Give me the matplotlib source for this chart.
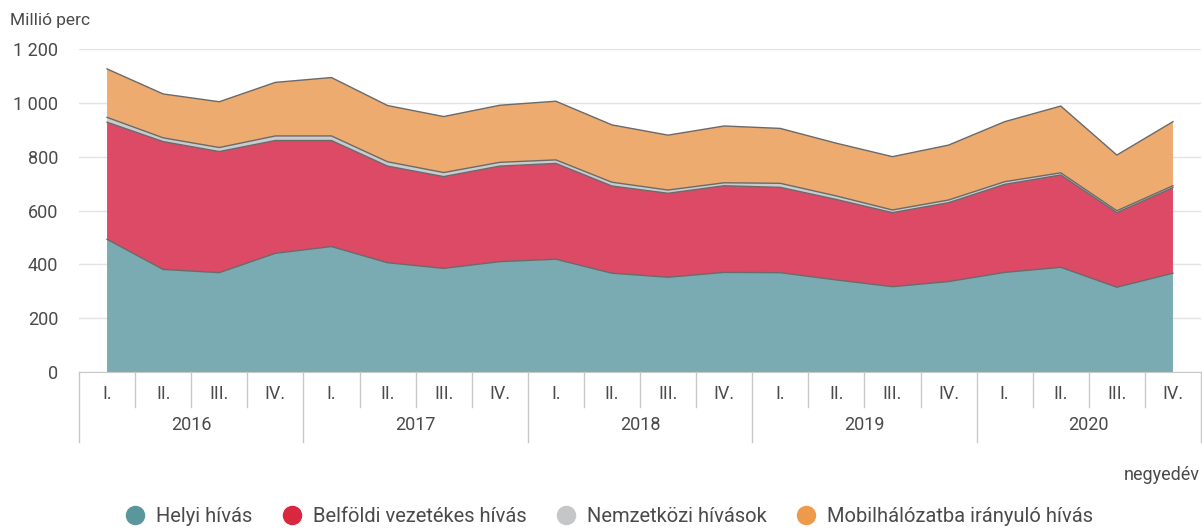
import numpy as np
import matplotlib
matplotlib.use("Agg")
import matplotlib.pyplot as plt
import matplotlib.transforms as mtransforms
from matplotlib.lines import Line2D

plt.rcParams["font.family"] = ["Roboto", "DejaVu Sans"]

# ---------------- DATA ----------------

years = ["2016", "2017", "2018", "2019", "2020"]
quarters = ["I.", "II.", "III.", "IV."]

helyi = [493, 381, 369, 441, 466, 406, 385, 410, 419, 367,
         352, 370, 369, 342, 317, 336, 370, 389, 315, 367]
belfoldi = [435, 475, 450, 419, 394, 359, 341, 355, 356, 324,
            312, 322, 317, 299, 275, 293, 327, 343, 277, 318]
nemzetkozi = [18, 14, 15, 17, 17, 16, 15, 14, 13, 14,
              12, 11, 15, 13, 10, 10, 10, 8, 7, 7]
mobil = [180, 163, 170, 199, 217, 209, 208, 212, 218, 213,
         204, 211, 204, 196, 198, 204, 223, 248, 207, 238]

series_names = ["Helyi hívás", "Belföldi vezetékes hívás",
                "Nemzetközi hívások", "Mobilhálózatba irányuló hívás"]
fill_colors = ["#7aabb2", "#dc4a66", "#c9cbcd", "#edab6f"]
legend_colors = ["#5a979d", "#d9273f", "#c4c6c8", "#ee9a4c"]

text_color = "#4a4a4a"

# ---------------- PLOT ----------------

fig = plt.figure(figsize=(12.02, 5.29), dpi=100)
ax = fig.add_axes([79 / 1202, 1 - 372 / 529, 1122 / 1202, 323 / 529])

x = np.arange(len(helyi))
stack = np.vstack([helyi, belfoldi, nemzetkozi, mobil])
ax.stackplot(x, stack, colors=fill_colors, linewidth=0, zorder=2)

tops = np.cumsum(stack, axis=0)
for row in tops:
    ax.plot(x, row, color="#6a6a6a", lw=1.0, zorder=3)

ax.set_xlim(-0.5, len(helyi) - 0.5)
ax.set_ylim(0, 1200)
ax.set_yticks(np.arange(0, 1201, 200))
ax.set_yticklabels([f"{v:,}".replace(",", " ") for v in range(0, 1201, 200)])
ax.tick_params(axis="y", length=0, pad=15, labelsize=13, labelcolor=text_color)
ax.set_xticks([])
ax.grid(axis="y", color="#e3e3e3", lw=1, zorder=0)
ax.set_axisbelow(True)

for s in ["top", "right", "left"]:
    ax.spines[s].set_visible(False)
ax.spines["bottom"].set_color("#c8c8c8")

# category axis with grouped years
trans = mtransforms.blended_transform_factory(ax.transData, ax.transAxes)
sep_color = "#c8c8c8"
for i in range(len(helyi)):
    ax.text(i, -0.068, quarters[i % 4], transform=trans, ha="center",
            va="center", fontsize=13, color=text_color)
for b in range(len(helyi) + 1):
    bottom = -0.217 if b % 4 == 0 else -0.108
    ax.plot([b - 0.5, b - 0.5], [0, bottom], transform=trans, color=sep_color,
            lw=1, clip_on=False)
for k, yr in enumerate(years):
    ax.text(k * 4 + 1.5, -0.164, yr, transform=trans, ha="center",
            va="center", fontsize=13, color=text_color)

fig.text(10 / 1202, 1 - 20 / 529, "Millió perc", ha="left", va="center",
         fontsize=12.5, color=text_color)
fig.text(1200 / 1202, 1 - 475 / 529, "negyedév", ha="right", va="center",
         fontsize=13, color=text_color)

handles = [Line2D([], [], marker="o", ls="", markersize=13,
                  markerfacecolor=c, markeredgecolor=c) for c in legend_colors]
fig.legend(handles, series_names, loc="center", ncol=4,
           bbox_to_anchor=(604 / 1202, 1 - 517 / 529), frameon=False,
           fontsize=14.5, labelcolor=text_color, handletextpad=0.05,
           columnspacing=0.95, borderpad=0)

fig.savefig("out.png", dpi=100)
